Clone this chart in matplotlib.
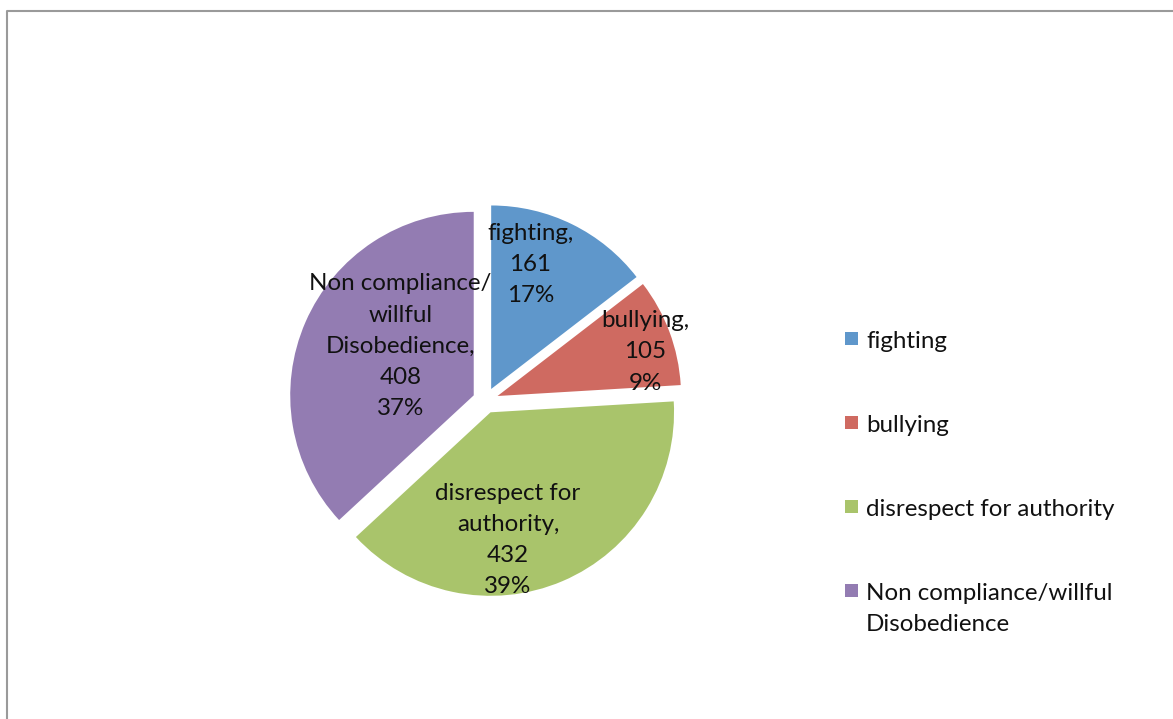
import numpy as np
import matplotlib
matplotlib.use("Agg")
import matplotlib.pyplot as plt
from matplotlib.patches import Rectangle

# Data
categories = ["fighting", "bullying", "disrespect for authority",
              "Non compliance/willful Disobedience"]
values = [161, 105, 432, 408]
pct_labels = ["17%", "9%", "39%", "37%"]
slice_labels = ["fighting,", "bullying,", "disrespect for\nauthority,",
                "Non compliance/\nwillful\nDisobedience,"]
legend_labels = ["fighting", "bullying", "disrespect for authority",
                 "Non compliance/willful\nDisobedience"]
colors = ["#5F97CB", "#CF6A61", "#A9C46B", "#937CB2"]

# label placement inside slices (angle in degrees, distance in radii)
label_pos = [(71.8, 0.78), (16.9, 0.91), (-80.8, 0.77), (147.5, 0.55)]

W, H = 1173, 719
fig = plt.figure(figsize=(W / 100, H / 100), dpi=100)
plt.rcParams['font.family'] = ['Lato', 'DejaVu Sans']
FS = 17.4
LS = 1.6

# frame around the chart area, pixel coordinates
frame = fig.add_axes([0, 0, 1, 1])
frame.set_xlim(0, W)
frame.set_ylim(H, 0)
frame.axis('off')
frame.plot([7, 7, W + 5], [H + 5, 11, 11], color='#9a9a9a', lw=1.5)

# pie axes positioned in pixels
cx, cy, R = 485.5, 400.5, 183.5
ext = 1.3
size = 2 * R * ext
ax = fig.add_axes([(cx - size / 2) / W, (H - cy - size / 2) / H, size / W, size / H])
ax.pie(values, colors=colors, startangle=90, counterclock=False,
       explode=[0.07] * len(values), radius=1.0,
       wedgeprops=dict(linewidth=0))
ax.set_xlim(-ext, ext)
ax.set_ylim(-ext, ext)
ax.set_aspect('equal')
ax.axis('off')

for lab, v, p, (ang, d) in zip(slice_labels, values, pct_labels, label_pos):
    a = np.deg2rad(ang)
    ax.text(d * np.cos(a), d * np.sin(a), f"{lab}\n{v}\n{p}",
            ha='center', va='center', fontsize=FS, color='#111111',
            linespacing=LS)

# legend drawn by hand to match spacing
leg_x, leg_y0, leg_step = 845, 338, 84
for i, (lab, c) in enumerate(zip(legend_labels, colors)):
    y = leg_y0 + leg_step * i
    frame.add_patch(Rectangle((leg_x, y - 6.5), 13, 13, facecolor=c, edgecolor='none'))
    nlines = lab.count("\n") + 1
    frame.text(leg_x + 21, y + 3 + (nlines - 1) * 16, lab, ha='left', va='center',
               fontsize=FS, color='#111111', linespacing=LS)

fig.savefig("out.png", dpi=100)
